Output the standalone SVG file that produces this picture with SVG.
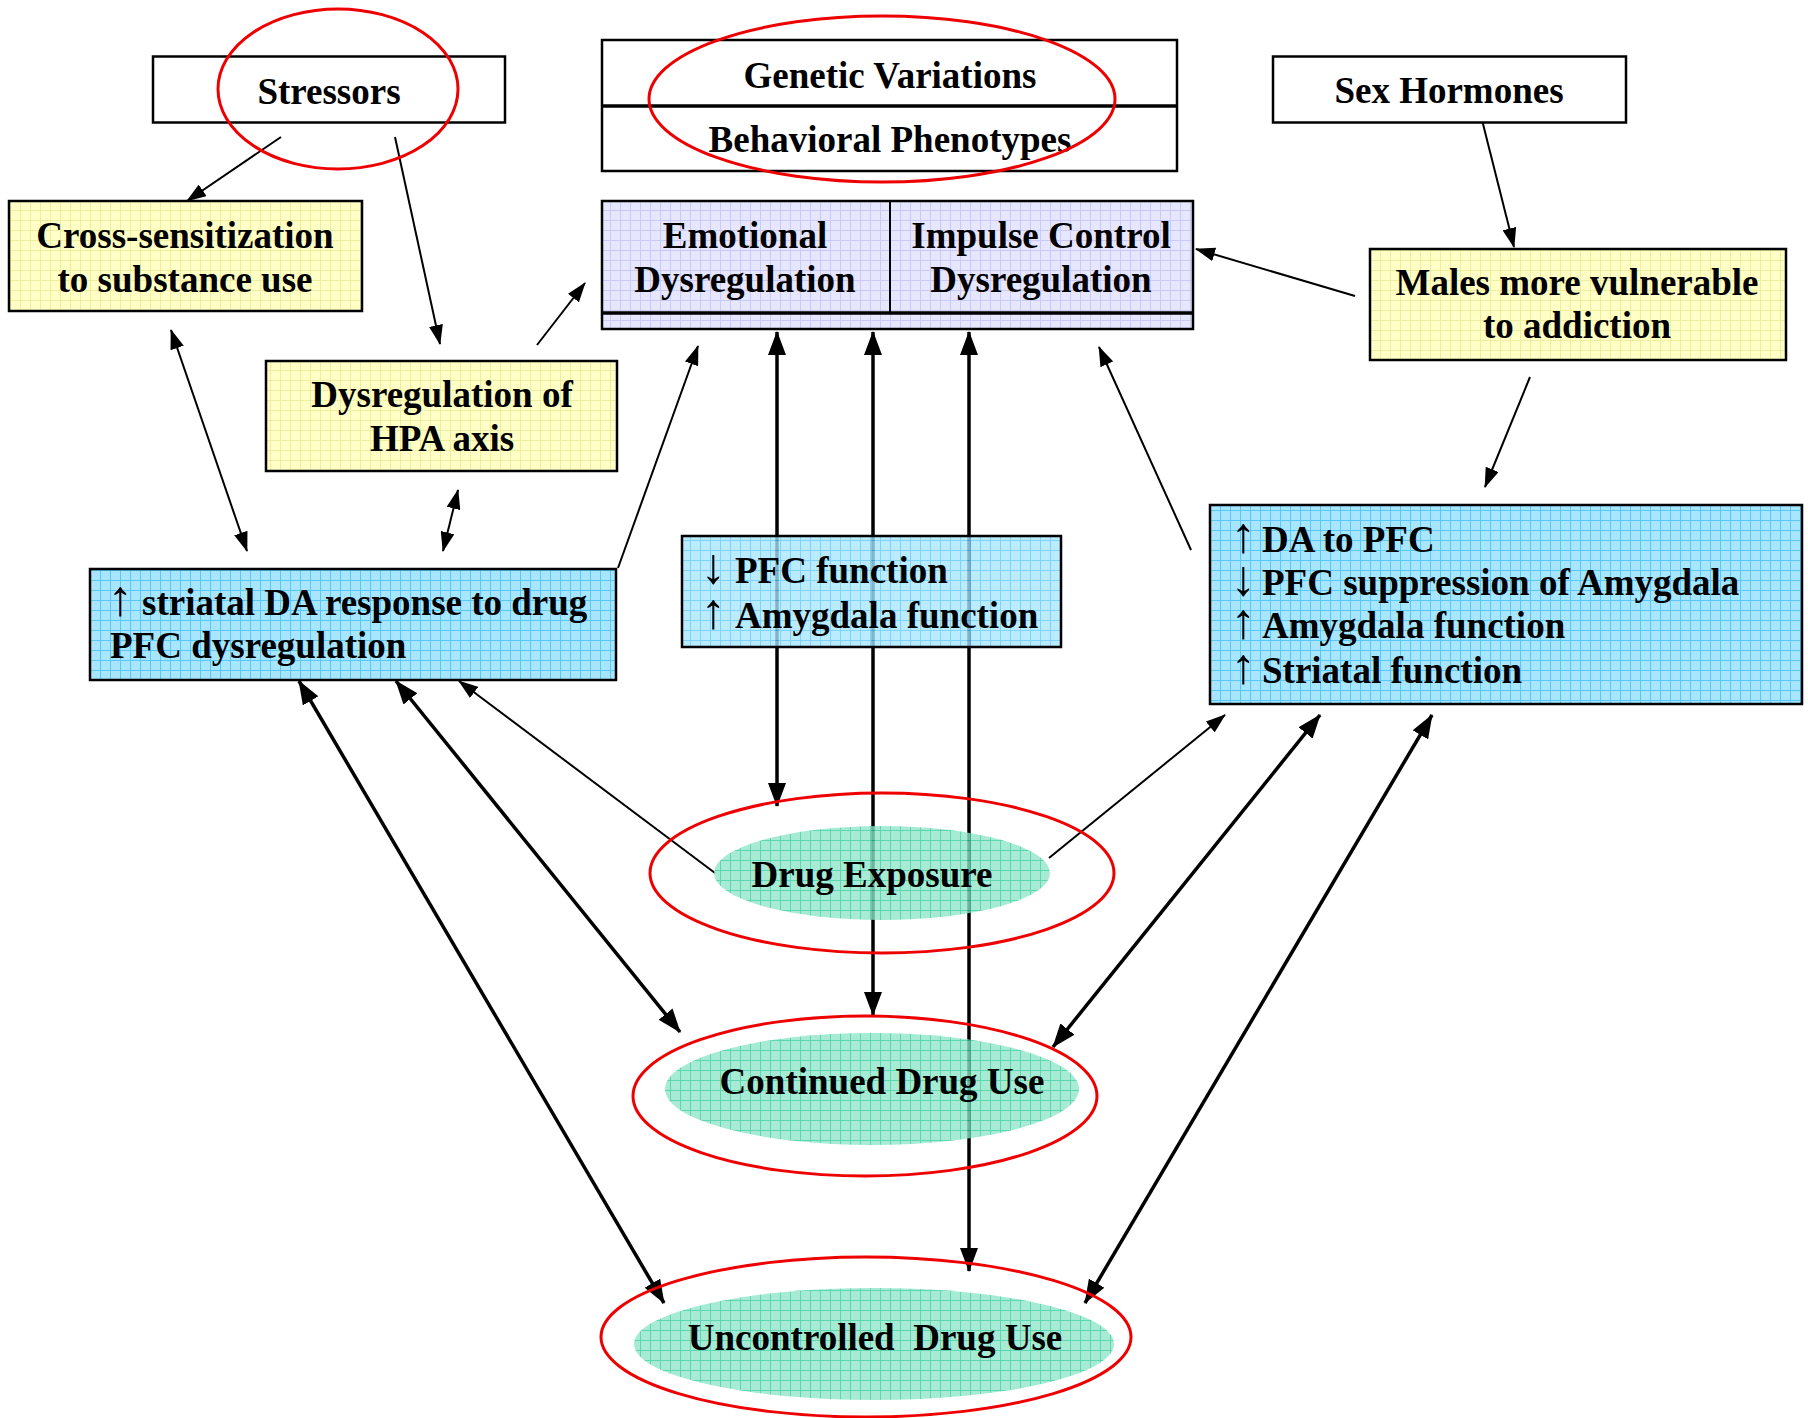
<svg xmlns="http://www.w3.org/2000/svg" width="1808" height="1418" viewBox="0 0 1808 1418">
<style>
text{font-family:"Liberation Serif","Times New Roman",serif;font-weight:bold;font-size:37px;fill:#000}
.c{text-anchor:middle}
.ar{font-size:50px;font-weight:normal}
.box{stroke:#000;stroke-width:2.5}
.red{fill:none;stroke:#ee0000;stroke-width:3}
.thin{stroke:#000;stroke-width:2;fill:none}
.thick{stroke:#000;stroke-width:3.5;fill:none}
</style>
<defs>
<pattern id="yel" width="10" height="10" patternUnits="userSpaceOnUse"><rect width="10" height="10" fill="#ffffc6"/><path d="M0 0.5H10M0.5 0V10" stroke="#eeeea0" stroke-width="1"/></pattern>
<pattern id="lav" width="10" height="10" patternUnits="userSpaceOnUse"><rect width="10" height="10" fill="#e6e6ff"/><path d="M0 0.5H10M0.5 0V10" stroke="#cacaf8" stroke-width="1"/></pattern>
<pattern id="blu" width="10" height="10" patternUnits="userSpaceOnUse"><rect width="10" height="10" fill="#a8e6ff"/><path d="M0 0.5H10M0.5 0V10" stroke="#5ac8f6" stroke-width="1"/></pattern>
<pattern id="grn" width="10" height="10" patternUnits="userSpaceOnUse"><rect width="10" height="10" fill="#8ee6c8"/><path d="M0 0.5H10M0.5 0V10" stroke="#30cc9c" stroke-width="1"/></pattern>
<marker id="a1" markerUnits="userSpaceOnUse" markerWidth="20" markerHeight="14" refX="19" refY="7" orient="auto-start-reverse"><path d="M0,0 L20,7 L0,14 z" fill="#000"/></marker>
<marker id="a2" markerUnits="userSpaceOnUse" markerWidth="24" markerHeight="18" refX="23" refY="9" orient="auto-start-reverse"><path d="M0,0 L24,9 L0,18 z" fill="#000"/></marker>
</defs>
<rect width="1808" height="1418" fill="#fff"/>
<g id="connectors">
<line class="thin" x1="281" y1="137" x2="187" y2="201" marker-end="url(#a1)"/>
<line class="thin" x1="395" y1="137" x2="440" y2="344" marker-end="url(#a1)"/>
<line class="thin" x1="537" y1="345" x2="585" y2="283" marker-end="url(#a1)"/>
<line class="thin" x1="171" y1="330" x2="247" y2="551" marker-start="url(#a1)" marker-end="url(#a1)"/>
<line class="thin" x1="458" y1="490" x2="443" y2="551" marker-start="url(#a1)" marker-end="url(#a1)"/>
<line class="thin" x1="618" y1="568" x2="698" y2="346" marker-end="url(#a1)"/>
<line class="thin" x1="1355" y1="296" x2="1196" y2="249" marker-end="url(#a1)"/>
<line class="thin" x1="1482" y1="120" x2="1514" y2="247" marker-end="url(#a1)"/>
<line class="thin" x1="1530" y1="377" x2="1485" y2="487" marker-end="url(#a1)"/>
<line class="thin" x1="1191" y1="550" x2="1099" y2="347" marker-end="url(#a1)"/>
<line class="thin" x1="715" y1="873" x2="459" y2="681" marker-end="url(#a1)"/>
<line class="thin" x1="1049" y1="858" x2="1225" y2="715" marker-end="url(#a1)"/>
<line class="thick" x1="777" y1="332" x2="777" y2="806" marker-start="url(#a2)" marker-end="url(#a2)"/>
<line class="thick" x1="873" y1="332" x2="873" y2="1015" marker-start="url(#a2)" marker-end="url(#a2)"/>
<line class="thick" x1="969" y1="332" x2="969" y2="1271" marker-start="url(#a2)" marker-end="url(#a2)"/>
<line class="thick" x1="396" y1="681" x2="680" y2="1032" marker-start="url(#a2)" marker-end="url(#a2)"/>
<line class="thick" x1="299" y1="681" x2="664" y2="1303" marker-start="url(#a2)" marker-end="url(#a2)"/>
<line class="thick" x1="1320" y1="715" x2="1053" y2="1047" marker-start="url(#a2)" marker-end="url(#a2)"/>
<line class="thick" x1="1432" y1="715" x2="1085" y2="1303" marker-start="url(#a2)" marker-end="url(#a2)"/>
</g>
<g id="stressors">
<rect class="box" x="153" y="56.5" width="352" height="66" fill="#fff"/>
<text class="c" x="329" y="104">Stressors</text>
<ellipse class="red" cx="338" cy="89" rx="120" ry="80"/>
</g>
<g id="genetic">
<rect class="box" x="602" y="40" width="575" height="131" fill="#fff"/>
<line x1="602" y1="106" x2="1177" y2="106" stroke="#000" stroke-width="3.5"/>
<text class="c" x="890" y="88">Genetic Variations</text>
<text class="c" x="890" y="152">Behavioral Phenotypes</text>
<ellipse class="red" cx="882" cy="99" rx="233" ry="83"/>
</g>
<g id="dysregulation">
<rect class="box" x="602" y="201" width="591" height="128" fill="url(#lav)"/>
<line x1="890" y1="201" x2="890" y2="313" stroke="#000" stroke-width="2"/>
<line x1="602" y1="313" x2="1193" y2="313" stroke="#000" stroke-width="3.5"/>
<text class="c" x="745" y="248">Emotional</text>
<text class="c" x="745" y="292">Dysregulation</text>
<text class="c" x="1041" y="248">Impulse Control</text>
<text class="c" x="1041" y="292">Dysregulation</text>
</g>
<g id="sexhormones">
<rect class="box" x="1273" y="56.5" width="353" height="66" fill="#fff"/>
<text class="c" x="1449" y="103">Sex Hormones</text>
</g>
<g id="males">
<rect class="box" x="1370" y="249" width="416" height="111" fill="url(#yel)"/>
<text class="c" x="1577" y="295">Males more vulnerable</text>
<text class="c" x="1577" y="338">to addiction</text>
</g>
<g id="crosssens">
<rect class="box" x="9" y="201" width="353" height="110" fill="url(#yel)"/>
<text class="c" x="185" y="248">Cross-sensitization</text>
<text class="c" x="185" y="292">to substance use</text>
</g>
<g id="hpa">
<rect class="box" x="266" y="361" width="351" height="110" fill="url(#yel)"/>
<text class="c" x="442" y="407">Dysregulation of</text>
<text class="c" x="442" y="451">HPA axis</text>
</g>
<g id="striatal">
<rect class="box" x="90" y="569" width="526" height="111" fill="url(#blu)"/>
<text x="108" y="615"><tspan class="ar">↑ </tspan><tspan x="142">striatal DA response to drug</tspan></text>
<text x="110" y="658">PFC dysregulation</text>
</g>
<g id="pfc">
<rect x="682" y="536" width="379" height="111" fill="url(#blu)" fill-opacity="0.78"/>
<rect class="box" x="682" y="536" width="379" height="111" fill="none"/>
<text x="701" y="583"><tspan class="ar">↓ </tspan><tspan x="735">PFC function</tspan></text>
<text x="701" y="628"><tspan class="ar">↑ </tspan><tspan x="735">Amygdala function</tspan></text>
</g>
<g id="sexeffects">
<rect class="box" x="1210" y="505" width="592" height="199" fill="url(#blu)"/>
<text x="1231" y="552"><tspan class="ar">↑ </tspan><tspan x="1262">DA to PFC</tspan></text>
<text x="1231" y="595"><tspan class="ar">↓ </tspan><tspan x="1262">PFC suppression of Amygdala</tspan></text>
<text x="1231" y="638"><tspan class="ar">↑ </tspan><tspan x="1262">Amygdala function</tspan></text>
<text x="1231" y="683"><tspan class="ar">↑ </tspan><tspan x="1262">Striatal function</tspan></text>
</g>
<g id="exposure">
<ellipse cx="882" cy="873" rx="168" ry="47" fill="url(#grn)" fill-opacity="0.78"/>
<text class="c" x="872" y="887">Drug Exposure</text>
<ellipse class="red" cx="882" cy="873" rx="232" ry="80"/>
</g>
<g id="continued">
<ellipse cx="872" cy="1089" rx="207" ry="56" fill="url(#grn)" fill-opacity="0.78"/>
<text class="c" x="882" y="1094">Continued Drug Use</text>
<ellipse class="red" cx="865" cy="1096" rx="232" ry="80"/>
</g>
<g id="uncontrolled">
<ellipse cx="874" cy="1344" rx="240" ry="56" fill="url(#grn)" fill-opacity="0.78"/>
<text class="c" x="875" y="1350" xml:space="preserve">Uncontrolled  Drug Use</text>
<ellipse class="red" cx="866" cy="1337" rx="265" ry="80"/>
</g>
</svg>
